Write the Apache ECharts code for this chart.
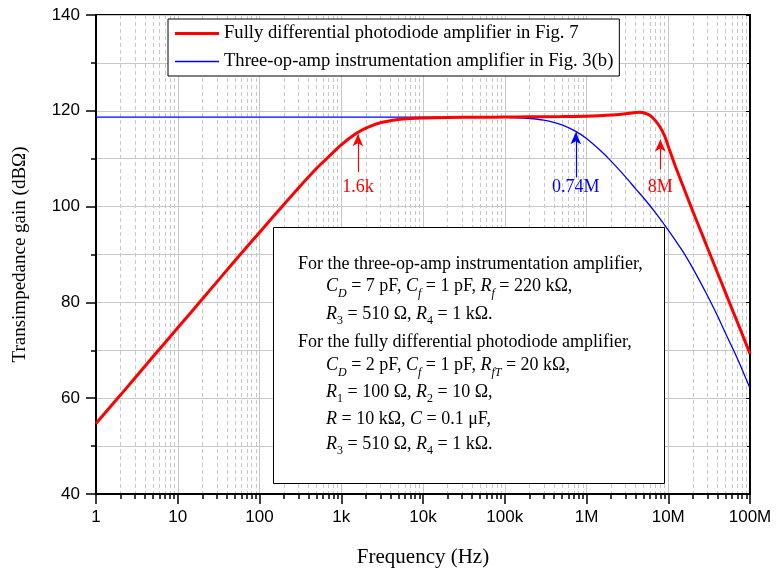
<!DOCTYPE html>
<html><head><meta charset="utf-8">
<script src="https://cdn.jsdelivr.net/npm/echarts@6/dist/echarts.min.js"></script>
<style>html,body{margin:0;padding:0;background:#fff}#c{width:776px;height:573px}</style>
</head><body><div id="c"></div>
<script>
// ---- data ----
const seriesNames = ['Fully differential photodiode amplifier in Fig. 7', 'Three-op-amp instrumentation amplifier in Fig. 3(b)'];
const freqRed = [1,2,5,10,20,50,100,200,300,500,700,1000,1500,2000,3000,5000,7000,1e4,2e4,5e4,1e5,2e5,5e5,1e6,2e6,3e6,4e6,4.5e6,5e6,6e6,7e6,8e6,9e6,1e7,1.2e7,1.5e7,2e7,2.5e7,3e7,4e7,5e7,6e7,7e7,8.5e7,1e8];
const gainRed = [54.7,60.7,68.7,74.7,80.7,88.7,94.6,100.5,103.9,108.0,110.4,112.9,115.2,116.4,117.5,118.2,118.4,118.5,118.6,118.65,118.7,118.75,118.8,118.85,119.1,119.4,119.65,119.7,119.6,119.0,117.9,116.5,114.8,112.6,108.8,104.5,99.0,94.9,91.5,86.2,82.1,78.7,75.9,72.3,69.3];
const freqBlue = [1,10,100,1e3,1e4,5e4,1e5,2e5,3e5,5e5,7.4e5,1e6,1.5e6,2e6,3e6,4e6,5e6,7e6,1e7,1.5e7,2e7,3e7,4e7,5e7,7e7,1e8];
const gainBlue = [118.7,118.7,118.7,118.7,118.7,118.68,118.62,118.39,118.04,117.07,115.7,114.2,111.6,109.5,106.2,103.7,101.8,98.7,95.1,90.7,87.1,81.5,77.2,73.6,68.3,62.1];
const decadeValues = [1,10,100,1e3,1e4,1e5,1e6,1e7,1e8];
const decadeLabels = ['1','10','100','1k','10k','100k','1M','10M','100M'];
const minorMultipliers = [2,3,4,5,6,7,8,9];
// arrow annotations: frequency, arrow tail, arrow tip, label
const redMarkFreq = [1600, 8e6];
const redMarkTail = [107.2, 107.8];
const redMarkTip = [115.1, 114.0];
const redMarkText = ['1.6k', '8M'];
const blueMarkFreq = [7.4e5];
const blueMarkTail = [106.1];
const blueMarkTip = [115.5];
const blueMarkText = ['0.74M'];
const markLabelLevel = 104.1;

const minorFreq = [];
decadeValues.slice(0, -1).forEach(d => minorMultipliers.forEach(m => minorFreq.push(d * m)));

const serif = 'Liberation Serif';
const sans = 'Liberation Sans';
const RED = '#ff0000', BLUE = '#0000ff', GRID = '#c8c8c8';

function labelFor(v) {
  for (let i = 0; i < decadeValues.length; i++) {
    if (Math.abs(v - decadeValues[i]) / decadeValues[i] < 1e-6) return decadeLabels[i];
  }
  return '';
}
function arrowLines(fs, tails, tips) {
  return fs.map((f, i) => [{ coord: [f, tails[i]] }, { coord: [f, tips[i]] }]);
}
function arrowLabels(fs, texts) {
  return fs.map((f, i) => ({ coord: [f, markLabelLevel], value: texts[i], name: texts[i] }));
}

const chart = echarts.init(document.getElementById('c'), null, { renderer: 'canvas' });

const rich = {
  n: { fontFamily: serif, fontSize: 18, lineHeight: 26, color: '#000' },
  i: { fontFamily: serif, fontSize: 18, lineHeight: 26, color: '#000', fontStyle: 'italic' },
  s: { fontFamily: serif, fontSize: 12, lineHeight: 10, color: '#000', verticalAlign: 'bottom' },
  si: { fontFamily: serif, fontSize: 12, lineHeight: 10, color: '#000', verticalAlign: 'bottom', fontStyle: 'italic' }
};
const noteLines = [
  { x: 298, base: 270, t: '{n|For the three-op-amp instrumentation amplifier,}' },
  { x: 326, base: 292.7, t: '{i|C}{si|D}{n| = 7 pF, }{i|C}{si|f}{n| = 1 pF, }{i|R}{si|f}{n| = 220 kΩ,}' },
  { x: 326, base: 320, t: '{i|R}{s|3}{n| = 510 Ω, }{i|R}{s|4}{n| = 1 kΩ.}' },
  { x: 298, base: 348.3, t: '{n|For the fully differential photodiode amplifier,}' },
  { x: 326, base: 371.7, t: '{i|C}{si|D}{n| = 2 pF, }{i|C}{si|f}{n| = 1 pF, }{i|R}{si|fT}{n| = 20 kΩ,}' },
  { x: 326, base: 398.3, t: '{i|R}{s|1}{n| = 100 Ω, }{i|R}{s|2}{n| = 10 Ω,}' },
  { x: 326, base: 425, t: '{i|R}{n| = 10 kΩ, }{i|C}{n| = 0.1 μF,}' },
  { x: 326, base: 450, t: '{i|R}{s|3}{n| = 510 Ω, }{i|R}{s|4}{n| = 1 kΩ.}' }
];

const graphic = [
  { type: 'rect', x: 273.5, y: 227.5, shape: { width: 391, height: 256 }, style: { fill: '#fff', stroke: '#000', lineWidth: 1 }, z: 50, silent: true }
].concat(noteLines.map(l => ({
  type: 'text', x: l.x, y: l.base - 19, z: 51, silent: true,
  style: { text: l.t, rich: rich, align: 'left', verticalAlign: 'top', fontFamily: serif, fontSize: 18, fill: '#000' }
})));

const option = {
  animation: false,
  backgroundColor: '#fff',
  grid: { left: 96, right: 26, top: 15, bottom: 77, show: true, borderColor: '#000', borderWidth: 2, backgroundColor: 'transparent', containLabel: false },
  legend: {
    orient: 'vertical', left: 168, top: 19,
    itemWidth: 44, itemHeight: 14, itemGap: 9,
    padding: [5, 6, 5, 7],
    backgroundColor: '#fff', borderColor: '#000', borderWidth: 1,
    textStyle: { fontFamily: serif, fontSize: 18.6, color: '#000' },
    data: [
      { name: seriesNames[0], icon: 'path://M0,0H44V3H0Z' },
      { name: seriesNames[1], icon: 'path://M0,0H44V1.3H0Z' }
    ],
    z: 20
  },
  xAxis: [
    {
      type: 'log', logBase: 10, min: 1, max: 1e8, position: 'bottom', splitNumber: 8,
      name: 'Frequency (Hz)', nameLocation: 'middle', nameGap: 53,
      nameTextStyle: { fontFamily: serif, fontSize: 21, color: '#000' },
      axisLine: { show: true, onZero: false, lineStyle: { color: '#000', width: 2 } },
      axisTick: { show: true, inside: false, length: 10, customValues: decadeValues, lineStyle: { color: '#000', width: 1.5 } },
      axisLabel: { show: true, margin: 15, fontFamily: sans, fontSize: 17, color: '#000', customValues: decadeValues, formatter: labelFor },
      splitLine: { show: true, lineStyle: { color: GRID, width: 1 } }
    },
    {
      type: 'log', logBase: 10, min: 1, max: 1e8, position: 'bottom',
      axisLine: { show: false, onZero: false },
      axisTick: { show: true, inside: false, length: 5, customValues: minorFreq, lineStyle: { color: '#000', width: 1.5 } },
      axisLabel: { show: false },
      splitLine: { show: true, lineStyle: { color: GRID, width: 1, type: [4, 3] } }
    }
  ],
  yAxis: [
    {
      type: 'value', min: 40, max: 140, interval: 20, position: 'left',
      name: 'Transimpedance gain (dBΩ)', nameLocation: 'middle', nameGap: 66,
      nameTextStyle: { fontFamily: serif, fontSize: 19, color: '#000' },
      axisLine: { show: true, onZero: false, lineStyle: { color: '#000', width: 2 } },
      axisTick: { show: true, inside: false, length: 10, lineStyle: { color: '#000', width: 1.5 } },
      minorTick: { show: true, splitNumber: 2, length: 5, lineStyle: { color: '#000', width: 1.5 } },
      axisLabel: { margin: 16, fontFamily: sans, fontSize: 17, color: '#000' },
      splitLine: { show: true, lineStyle: { color: GRID, width: 1 } },
      minorSplitLine: { show: true, lineStyle: { color: GRID, width: 1 } }
    },
    {
      type: 'value', min: 40, max: 140, interval: 20, position: 'right',
      axisLine: { show: true, onZero: false, lineStyle: { color: '#000', width: 2 } },
      axisTick: { show: true, inside: true, length: 4, lineStyle: { color: '#000', width: 1 } },
      minorTick: { show: true, splitNumber: 2, length: 3, lineStyle: { color: '#000', width: 1 } },
      axisLabel: { show: false },
      splitLine: { show: false }
    }
  ],
  series: [
    {
      name: seriesNames[0], type: 'line', xAxisIndex: 0, yAxisIndex: 0,
      data: freqRed.map((f, i) => [f, gainRed[i]]),
      symbol: 'none', showSymbol: false, smooth: 0.25, z: 4,
      lineStyle: { color: RED, width: 3 }, itemStyle: { color: RED },
      markLine: {
        silent: true, symbol: ['none', 'arrow'], symbolSize: [8, 12],
        lineStyle: { color: RED, width: 1.2, type: 'solid' }, label: { show: false },
        data: arrowLines(redMarkFreq, redMarkTail, redMarkTip)
      },
      markPoint: {
        silent: true, symbol: 'circle', symbolSize: 0,
        label: { show: true, position: 'inside', formatter: p => p.name, fontFamily: serif, fontSize: 18, color: RED },
        data: arrowLabels(redMarkFreq, redMarkText)
      }
    },
    {
      name: seriesNames[1], type: 'line', xAxisIndex: 0, yAxisIndex: 0,
      data: freqBlue.map((f, i) => [f, gainBlue[i]]),
      symbol: 'none', showSymbol: false, smooth: 0.25, z: 3,
      lineStyle: { color: BLUE, width: 1.3 }, itemStyle: { color: BLUE },
      markLine: {
        silent: true, symbol: ['none', 'arrow'], symbolSize: [8, 12],
        lineStyle: { color: BLUE, width: 1.2, type: 'solid' }, label: { show: false },
        data: arrowLines(blueMarkFreq, blueMarkTail, blueMarkTip)
      },
      markPoint: {
        silent: true, symbol: 'circle', symbolSize: 0,
        label: { show: true, position: 'inside', formatter: p => p.name, fontFamily: serif, fontSize: 18, color: BLUE },
        data: arrowLabels(blueMarkFreq, blueMarkText)
      }
    }
  ],
  graphic: graphic
};
chart.setOption(option);
</script>
</body></html>
